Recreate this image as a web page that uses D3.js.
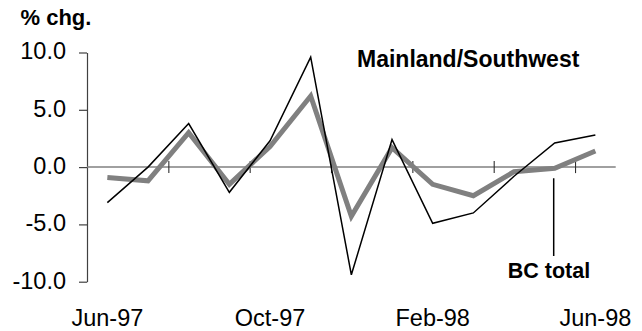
<!DOCTYPE html>
<html>
<head>
<meta charset="utf-8">
<script src="https://cdn.jsdelivr.net/npm/d3@7"></script>
<style>
  html, body { margin: 0; padding: 0; background: #fff; }
  svg { display: block; font-family: "Liberation Sans", Arial, sans-serif; }
</style>
</head>
<body>
<svg id="chart" width="642" height="331"></svg>
<script>
// Monthly % change, Jun-97 to Jun-98
const months = ["Jun-97","Jul-97","Aug-97","Sep-97","Oct-97","Nov-97","Dec-97",
                "Jan-98","Feb-98","Mar-98","Apr-98","May-98","Jun-98"];
const mainland = [-3.1, 0.0, 3.8, -2.2, 2.3, 9.6, -9.4, 2.4, -4.9, -4.0, -0.8, 2.1, 2.8];
const bcTotal  = [-0.9, -1.2, 3.0, -1.5, 1.8, 6.2, -4.3, 1.7, -1.5, -2.5, -0.4, -0.1, 1.4];
const yTicks = [-10, -5, 0, 5, 10];
const xLabels = ["Jun-97", "Oct-97", "Feb-98", "Jun-98"];

const svg = d3.select("#chart");
const plotLeft = 87, plotRight = 615.7, plotTop = 52.5, plotBottom = 281.7;

const x = d3.scaleBand().domain(months).range([plotLeft, plotRight]).padding(0);
const xc = m => x(m) + x.bandwidth() / 2;
const xb = d3.scaleLinear().domain([0, months.length]).range([plotLeft, plotRight]);
const y = d3.scaleLinear().domain([-10, 10]).range([plotBottom, plotTop]);

// y axis
const yAxis = svg.append("g")
  .attr("transform", `translate(${plotLeft},0)`)
  .call(d3.axisLeft(y).tickValues(yTicks).tickSize(8).tickSizeOuter(0)
        .tickPadding(13).tickFormat(d => d.toFixed(1)));
yAxis.attr("font-size", 23.5).attr("font-family", null);
yAxis.select(".domain").attr("stroke", "#404040").attr("stroke-width", 1.2);
yAxis.selectAll(".tick line").attr("stroke", "#404040").attr("stroke-width", 1.2);
yAxis.selectAll(".tick text").attr("dy", "0.27em").attr("fill", "#000");

// zero line with tick marks every two months
svg.append("line")
  .attr("x1", plotLeft).attr("x2", plotRight)
  .attr("y1", y(0)).attr("y2", y(0))
  .attr("stroke", "#808080").attr("stroke-width", 1.5);
const xTicks = svg.append("g")
  .attr("transform", `translate(0,${y(0) - 6})`)
  .call(d3.axisBottom(xb).tickValues([2, 4, 6, 8, 10, 12]).tickSize(12).tickFormat(""));
xTicks.select(".domain").remove();
xTicks.selectAll(".tick line").attr("stroke", "#303030").attr("stroke-width", 1.1);

// month labels
const xAxis = svg.append("g")
  .attr("transform", `translate(0,309)`)
  .call(d3.axisBottom(x).tickValues(xLabels).tickSize(0).tickPadding(0));
xAxis.select(".domain").remove();
xAxis.attr("font-size", 23.5).attr("font-family", null);
xAxis.selectAll(".tick text").attr("fill", "#000");

// series
const line = d3.line().x((d, i) => xc(months[i])).y(d => y(d));
svg.append("path").datum(bcTotal)
  .attr("d", line).attr("fill", "none")
  .attr("stroke", "#808080").attr("stroke-width", 5)
  .attr("stroke-linejoin", "miter");
svg.append("path").datum(mainland)
  .attr("d", line).attr("fill", "none")
  .attr("stroke", "#000").attr("stroke-width", 1.5)
  .attr("stroke-linejoin", "miter");

// leader line to BC total
svg.append("line")
  .attr("x1", xc("May-98") - 1).attr("x2", xc("May-98") - 1)
  .attr("y1", y(bcTotal[11]) + 10).attr("y2", 256)
  .attr("stroke", "#000").attr("stroke-width", 1.5);

// text labels
svg.append("text").attr("x", 20.5).attr("y", 24.5)
  .attr("font-size", 22).attr("font-weight", "bold").text("% chg.");
svg.append("text").attr("x", 357).attr("y", 66.5)
  .attr("font-size", 23).attr("font-weight", "bold")
  .text("Mainland/Southwest");
svg.append("text").attr("x", 549).attr("y", 277.5)
  .attr("text-anchor", "middle")
  .attr("font-size", 21.5).attr("font-weight", "bold").text("BC total");
</script>
</body>
</html>
